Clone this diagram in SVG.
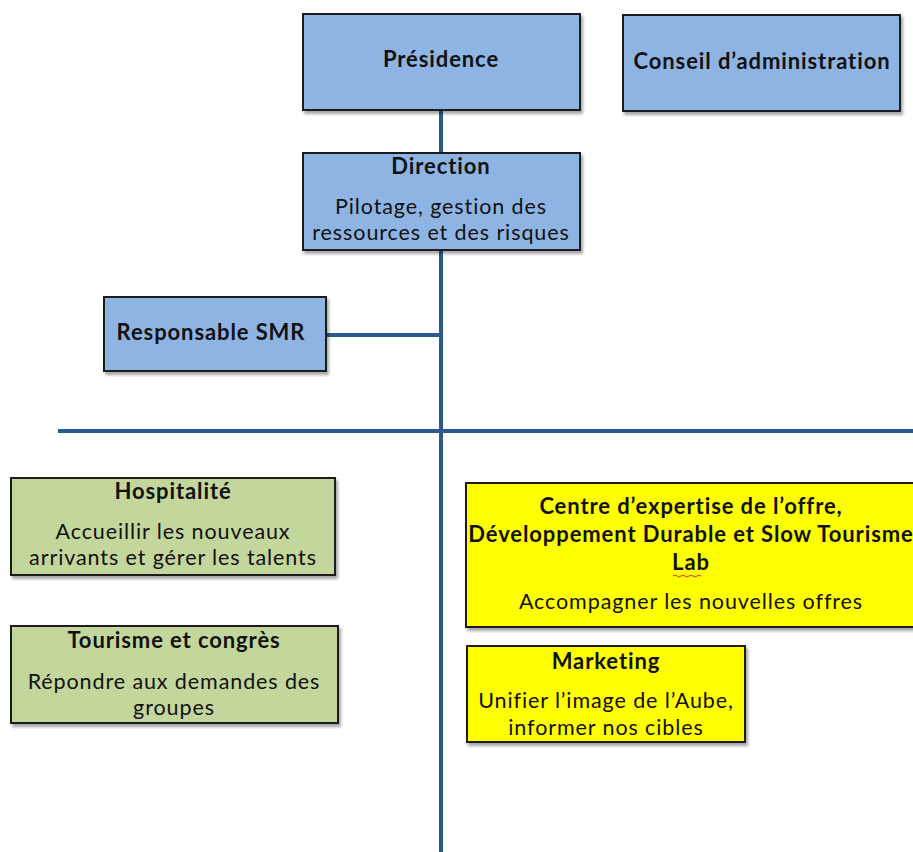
<svg xmlns="http://www.w3.org/2000/svg" width="913" height="852" viewBox="0 0 913 852">
<defs>
<filter id="sh" x="-5%" y="-5%" width="115%" height="125%">
<feDropShadow dx="2" dy="3" stdDeviation="1.5" flood-color="#000" flood-opacity="0.35"/>
</filter>
<style>
.box{stroke:#1c1c1c;stroke-width:2;filter:url(#sh)}
.blue{fill:#8eb4e3}
.green{fill:#c3d69b}
.yellow{fill:#ffff00}
.t{font-family:Lato,"Open Sans","Liberation Sans",sans-serif;fill:#111;text-anchor:middle}
.b{font-weight:bold;font-size:22px;letter-spacing:0.9px}
.n{font-size:21.5px;letter-spacing:0.9px}
.line{stroke:#2c5a8f;stroke-width:4;fill:none}
</style>
</defs>
<rect width="913" height="852" fill="#fff"/>
<g id="connectors">
<line class="line" x1="441" y1="110" x2="441" y2="852"/>
<line class="line" x1="326" y1="335" x2="441" y2="335"/>
<line class="line" x1="58" y1="431" x2="913" y2="431"/>
</g>
<g id="presidence">
<rect class="box blue" x="303" y="14" width="277" height="96"/>
<text class="t b" x="441" y="67">Présidence</text>
</g>
<g id="conseil">
<rect class="box blue" x="623" y="15" width="277" height="96"/>
<text class="t b" x="762" y="69">Conseil d’administration</text>
</g>
<g id="direction">
<rect class="box blue" x="303" y="153" width="277" height="97"/>
<text class="t b" x="441" y="174">Direction</text>
<text class="t n" x="441" y="214">Pilotage, gestion des</text>
<text class="t n" x="441" y="240">ressources et des risques</text>
</g>
<g id="smr">
<rect class="box blue" x="104" y="297" width="222" height="74"/>
<text class="t b" x="211" y="340">Responsable SMR</text>
</g>
<g id="hospitalite">
<rect class="box green" x="11" y="478" width="324" height="97"/>
<text class="t b" x="173" y="499">Hospitalité</text>
<text class="t n" x="173" y="539">Accueillir les nouveaux</text>
<text class="t n" x="173" y="565">arrivants et gérer les talents</text>
</g>
<g id="tourisme">
<rect class="box green" x="11" y="626" width="327" height="97"/>
<text class="t b" x="174" y="648">Tourisme et congrès</text>
<text class="t n" x="174" y="689">Répondre aux demandes des</text>
<text class="t n" x="174" y="715">groupes</text>
</g>
<g id="centre">
<rect class="box yellow" x="466" y="483" width="460" height="144"/>
<text class="t b" x="691" y="514">Centre d’expertise de l’offre,</text>
<text class="t b" x="691" y="542">Développement Durable et Slow Tourisme</text>
<text class="t b" x="691" y="570">Lab</text>
<path d="M673 576 q2 -2 4 0 t4 0 t4 0 t4 0 t4 0 t4 0 t4 0" stroke="#e03030" stroke-width="1" fill="none"/>
<text class="t n" x="691" y="609">Accompagner les nouvelles offres</text>
</g>
<g id="marketing">
<rect class="box yellow" x="467" y="646" width="278" height="96"/>
<text class="t b" x="606" y="669">Marketing</text>
<text class="t n" x="606" y="708">Unifier l’image de l’Aube,</text>
<text class="t n" x="606" y="735">informer nos cibles</text>
</g>
</svg>
